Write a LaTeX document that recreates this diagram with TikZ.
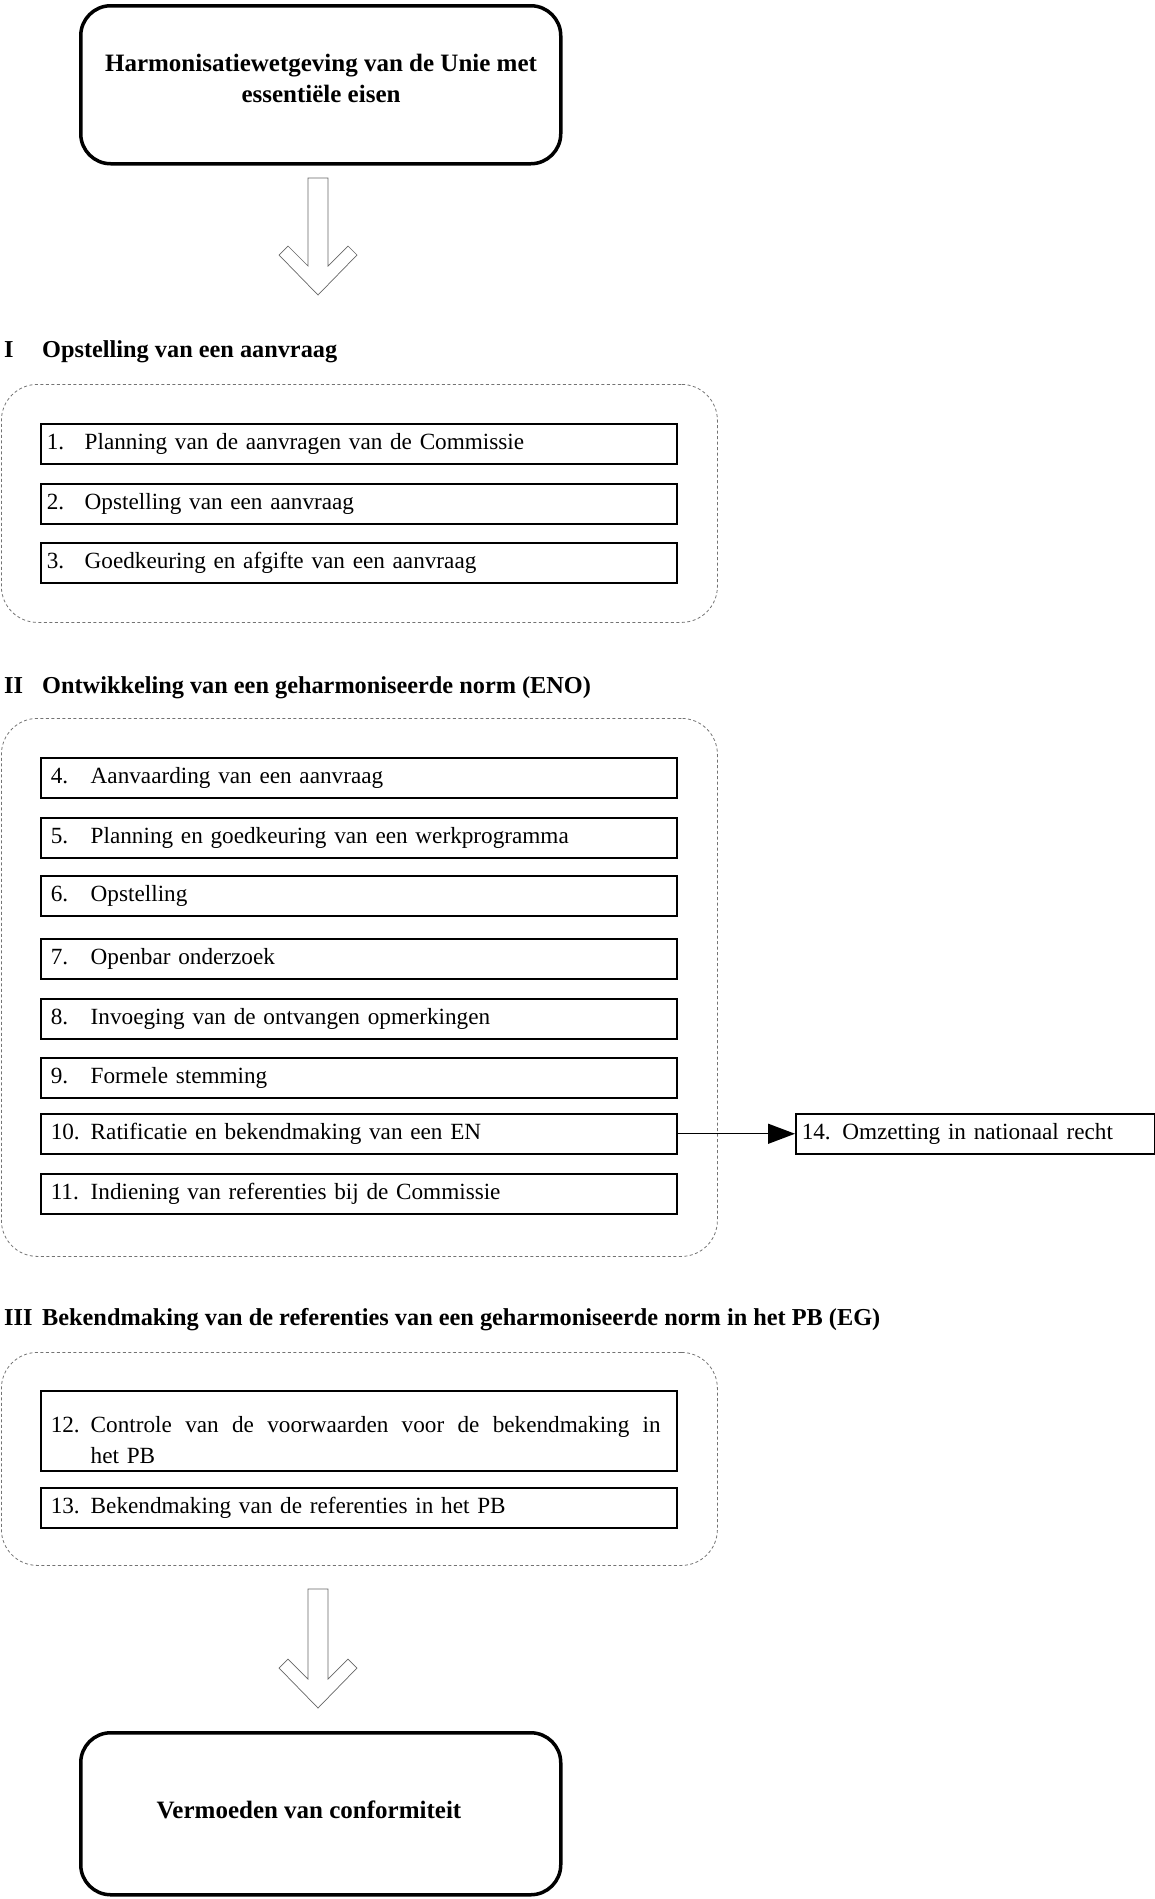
\documentclass[tikz,border=0pt]{standalone}
\usepackage{fontspec}
\setmainfont{Liberation Serif}
\usetikzlibrary{arrows.meta}
\tikzset{
  x=1pt, y=-1pt,
  txt/.style={font=\fontsize{23.2}{31}\selectfont, inner sep=0pt},
  boldtxt/.style={inner sep=0pt, font=\fontsize{25}{31}\selectfont\bfseries},
  heading/.style={inner sep=0pt, font=\fontsize{24.3}{31}\selectfont\bfseries, anchor=base west},
  bigbox/.style={draw, line width=3.5pt, rounded corners=30pt, anchor=north west,
    minimum width=480pt, inner sep=0pt},
  container/.style={draw=black!55, dash pattern=on 3pt off 2.5pt, line width=0.8pt,
    rounded corners=36pt, anchor=north west, minimum width=716pt, inner sep=0pt},
  itembox/.style={draw, line width=1.5pt, anchor=north west, txt, text width=636pt,
    align=left, minimum height=40pt},
  hollowarrow/.style={draw=black!60, line width=0.7pt, line join=miter},
  link/.style={line width=1.4pt, -{Triangle[length=27pt,width=20pt]}},
}
\newcommand{\numA}[1]{\hspace*{6pt}\makebox[38pt][l]{#1}}
\newcommand{\numB}[1]{\hspace*{10pt}\makebox[40pt][l]{#1}}
\begin{document}
\begin{tikzpicture}
\useasboundingbox (0,0) rectangle (1155,1899);

% top box
\node[bigbox, minimum height=158pt] (top) at (79,4) {};
\node[boldtxt, align=center] (toptxt) at (321,78)
  {Harmonisatiewetgeving van de Unie met\\essentiële eisen};

% hollow arrow 1
\coordinate (t1) at (318,295);
\draw[hollowarrow, shift={(t1)}] (0,0) -- (39,-40) -- (30,-49) -- (10,-29) -- (10,-117)
  -- (-10,-117) -- (-10,-29) -- (-30,-49) -- (-39,-40) -- cycle;

% section I
\node[heading] (h1n) at (4,357) {I};
\node[heading] (h1) at (42,357) {Opstelling van een aanvraag};
\node[container, minimum height=238pt] (c1) at (1,384) {};
\node[itembox] (b1) at (40,423) {\numA{1.}Planning van de aanvragen van de Commissie};
\node[itembox] (b2) at (40,483) {\numA{2.}Opstelling van een aanvraag};
\node[itembox] (b3) at (40,542) {\numA{3.}Goedkeuring en afgifte van een aanvraag};

% section II
\node[heading] (h2n) at (4,693) {II};
\node[heading] (h2) at (42,693) {Ontwikkeling van een geharmoniseerde norm (ENO)};
\node[container, minimum height=538pt] (c2) at (1,718) {};
\node[itembox] (b4) at (40,757) {\numB{4.}Aanvaarding van een aanvraag};
\node[itembox] (b5) at (40,817) {\numB{5.}Planning en goedkeuring van een werkprogramma};
\node[itembox] (b6) at (40,875) {\numB{6.}Opstelling};
\node[itembox] (b7) at (40,938) {\numB{7.}Openbar onderzoek};
\node[itembox] (b8) at (40,998) {\numB{8.}Invoeging van de ontvangen opmerkingen};
\node[itembox] (b9) at (40,1057) {\numB{9.}Formele stemming};
\node[itembox] (b10) at (40,1113) {\numB{10.}Ratificatie en bekendmaking van een EN};
\node[itembox] (b11) at (40,1173) {\numB{11.}Indiening van referenties bij de Commissie};
\node[itembox, text width=359pt] (b14) at (795,1113) {\hspace*{6pt}14. Omzetting in nationaal recht};
\draw[link] (b10.east) -- (b14.west);

% section III
\node[heading] (h3n) at (4,1325) {III};
\node[heading] (h3) at (42,1325) {Bekendmaking van de referenties van een geharmoniseerde norm in het PB (EG)};
\node[container, minimum height=213pt] (c3) at (1,1352) {};
\node[itembox, minimum height=80pt] (b12) at (40,1390)
  {\rule{0pt}{35pt}\numB{12.}\makebox[570pt][l]{Controle\hfill van\hfill de\hfill voorwaarden\hfill voor\hfill de\hfill bekendmaking\hfill in}\\
   \hspace*{50pt}het PB};
\node[itembox] (b13) at (40,1487) {\numB{13.}Bekendmaking van de referenties in het PB};

% hollow arrow 2
\coordinate (t2) at (318,1708);
\draw[hollowarrow, shift={(t2)}] (0,0) -- (39,-40) -- (30,-49) -- (10,-29) -- (10,-119)
  -- (-10,-119) -- (-10,-29) -- (-30,-49) -- (-39,-40) -- cycle;

% bottom box
\node[bigbox, minimum height=162pt] (bot) at (79,1731) {};
\node[boldtxt] (bottxt) at (309,1810) {Vermoeden van conformiteit};
\end{tikzpicture}
\end{document}
